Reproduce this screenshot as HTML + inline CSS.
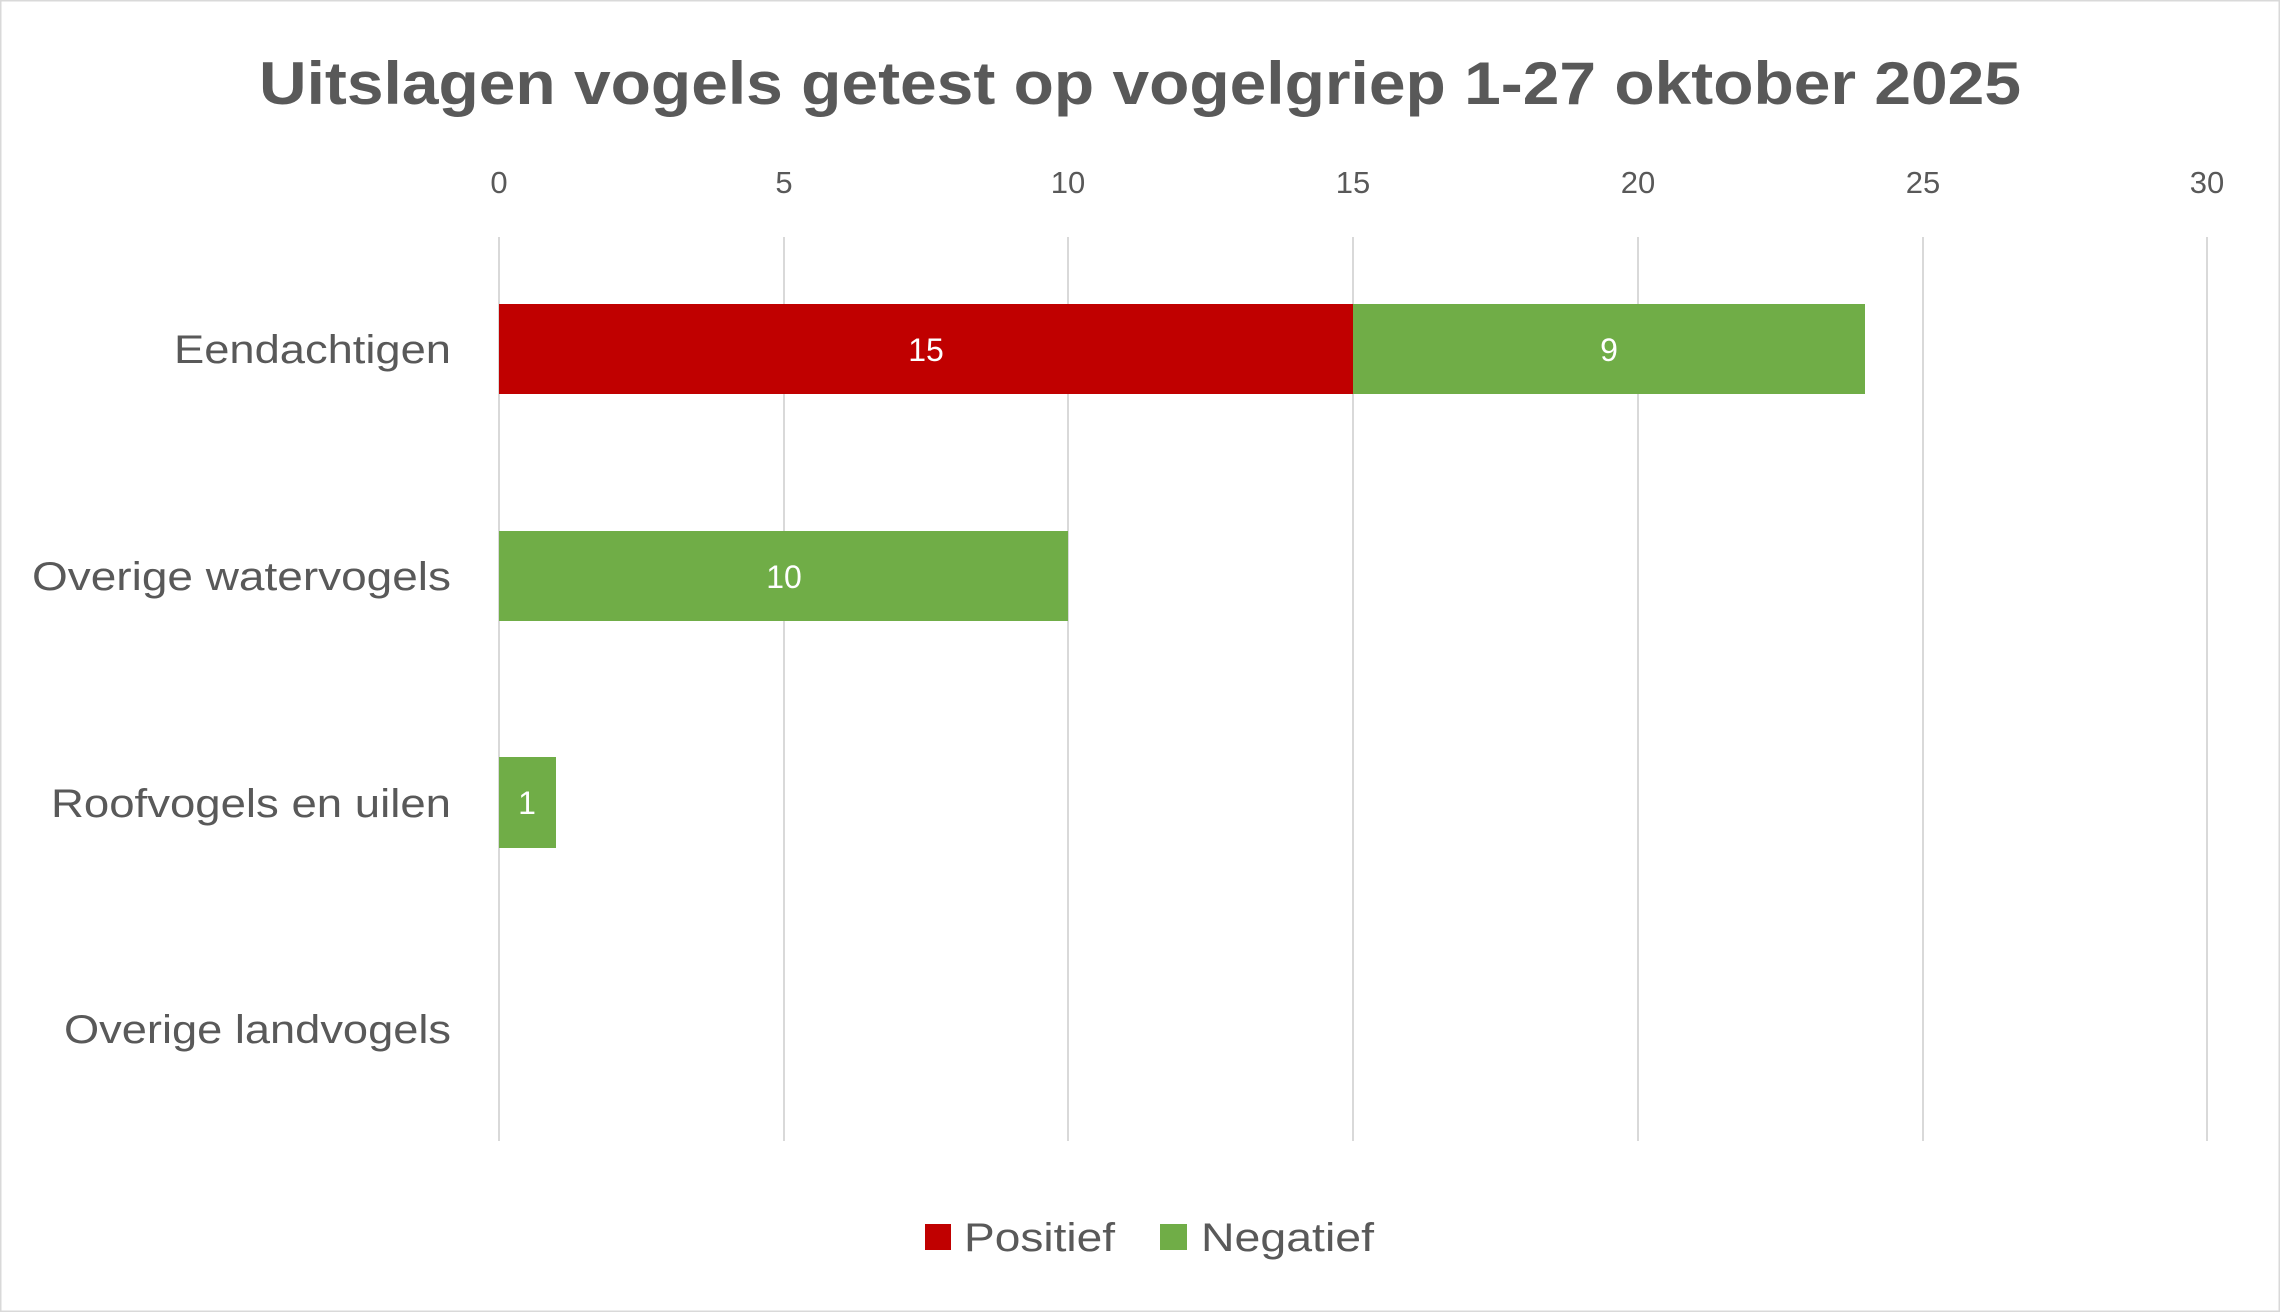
<!DOCTYPE html>
<html><head><meta charset="utf-8"><style>html,body{margin:0;padding:0;background:#fff}svg{display:block}</style></head>
<body>
<svg width="2280" height="1312" viewBox="0 0 2280 1312" xmlns="http://www.w3.org/2000/svg" font-family="'Liberation Sans', sans-serif">
<rect x="0.5" y="0.5" width="2279" height="1311" fill="#fff" stroke="#d9d9d9" stroke-width="2"/>
<text x="1140" y="104" text-anchor="middle" font-size="60" font-weight="bold" fill="#595959" textLength="1762" lengthAdjust="spacingAndGlyphs">Uitslagen vogels getest op vogelgriep 1-27 oktober 2025</text>
<g stroke="#d9d9d9" stroke-width="2">
<line x1="499" y1="237" x2="499" y2="1141"/>
<line x1="784" y1="237" x2="784" y2="1141"/>
<line x1="1068" y1="237" x2="1068" y2="1141"/>
<line x1="1353" y1="237" x2="1353" y2="1141"/>
<line x1="1638" y1="237" x2="1638" y2="1141"/>
<line x1="1923" y1="237" x2="1923" y2="1141"/>
<line x1="2207" y1="237" x2="2207" y2="1141"/>
</g>
<g font-size="31" fill="#595959" text-anchor="middle">
<text x="499" y="193">0</text><text x="784" y="193">5</text><text x="1068" y="193">10</text><text x="1353" y="193">15</text><text x="1638" y="193">20</text><text x="1923" y="193">25</text><text x="2207" y="193">30</text>
</g>
<rect x="499" y="304" width="854" height="90" fill="#c00000"/>
<rect x="1353" y="304" width="512" height="90" fill="#70ad47"/>
<rect x="499" y="531" width="569" height="90" fill="#70ad47"/>
<rect x="499" y="757" width="57" height="91" fill="#70ad47"/>
<g font-size="32" fill="#fff" text-anchor="middle">
<text x="926" y="361">15</text><text x="1609" y="361">9</text><text x="784" y="588">10</text><text x="527" y="814">1</text>
</g>
<g font-size="40" fill="#595959" text-anchor="end">
<text x="451" y="363" textLength="277" lengthAdjust="spacingAndGlyphs">Eendachtigen</text>
<text x="451" y="590" textLength="419" lengthAdjust="spacingAndGlyphs">Overige watervogels</text>
<text x="451" y="817" textLength="400" lengthAdjust="spacingAndGlyphs">Roofvogels en uilen</text>
<text x="451" y="1043" textLength="387" lengthAdjust="spacingAndGlyphs">Overige landvogels</text>
</g>
<rect x="925" y="1224" width="26" height="26" fill="#c00000"/>
<rect x="1160" y="1224" width="27" height="26" fill="#70ad47"/>
<g font-size="40" fill="#595959">
<text x="964" y="1251" textLength="151" lengthAdjust="spacingAndGlyphs">Positief</text>
<text x="1201" y="1251" textLength="173" lengthAdjust="spacingAndGlyphs">Negatief</text>
</g>
</svg>
</body></html>
